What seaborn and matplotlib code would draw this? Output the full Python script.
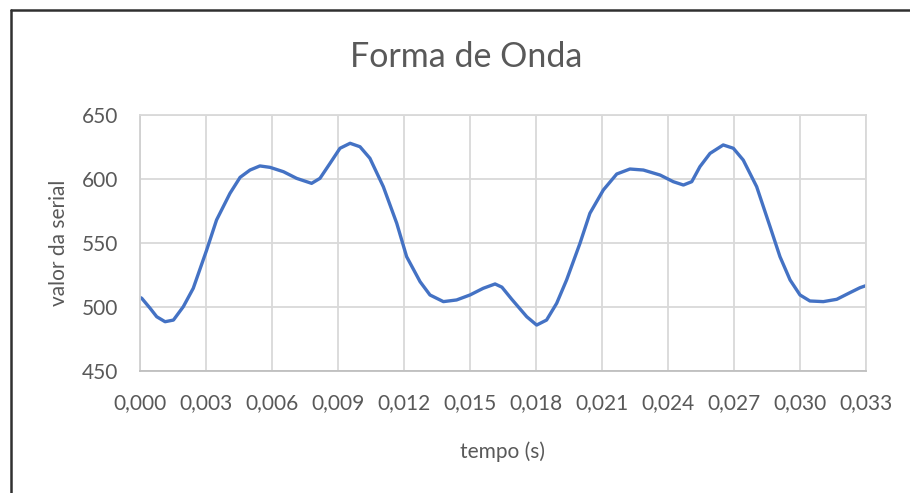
import matplotlib
matplotlib.use("Agg")
import matplotlib.pyplot as plt
import seaborn as sns
import pandas as pd
from matplotlib.lines import Line2D

# ---- data ----
tempo_ms = [0.0, 0.08, 0.46, 0.76, 1.14, 1.52, 1.97, 2.42, 3.03, 3.48, 4.09, 4.55, 5.0,
            5.45, 5.91, 6.52, 7.12, 7.8, 8.18, 8.64, 9.09, 9.55, 10.0, 10.45, 11.06,
            11.67, 12.12, 12.73, 13.18, 13.79, 14.39, 15.0, 15.6, 16.14, 16.45, 16.9,
            17.58, 18.03, 18.48, 18.94, 19.39, 20.0, 20.45, 21.06, 21.67, 22.27, 22.88,
            23.64, 24.24, 24.7, 25.08, 25.45, 25.91, 26.51, 26.97, 27.42, 28.03, 28.64,
            29.09, 29.55, 30.0, 30.45, 31.06, 31.67, 32.27, 32.73, 33.0]
valor = [507.5, 506.8, 499, 492.4, 488.5, 489.8, 500.3, 514.6, 544.5, 568, 588.8, 601.3,
         607, 610.2, 609.1, 605.7, 600.5, 596.6, 600.5, 612.3, 624, 627.9, 625.2, 616.2,
         594, 565.4, 539.3, 519.8, 509.4, 504.2, 505.5, 509.4, 514.6, 518, 515.5, 506,
         492.4, 485.9, 489.8, 502.9, 521.1, 549.8, 573.2, 591.4, 603.9, 607.8, 607,
         603.1, 597.9, 595.3, 597.9, 609.6, 620, 626.6, 624, 614.8, 594, 562.7,
         539.3, 521.1, 509.4, 504.7, 504.2, 506, 511.2, 515.1, 516.7]
x_ticks = [0.000, 0.003, 0.006, 0.009, 0.012, 0.015, 0.018, 0.021, 0.024, 0.027, 0.030, 0.033]
x_tick_labels = ["0,000", "0,003", "0,006", "0,009", "0,012", "0,015", "0,018",
                 "0,021", "0,024", "0,027", "0,030", "0,033"]
y_ticks = [450, 500, 550, 600, 650]

df = pd.DataFrame({"tempo": [t / 1000 for t in tempo_ms], "valor": valor})

sns.set_style("white")
plt.rcParams["font.family"] = ["Lato", "DejaVu Sans"]

fig = plt.figure(figsize=(9.10, 4.93), dpi=100)
ax = fig.add_axes([140 / 910, 1 - 371 / 493, (866 - 140) / 910, (371 - 115) / 493])

sns.lineplot(data=df, x="tempo", y="valor", ax=ax, color="#4472C4", linewidth=2.4,
             solid_joinstyle="round", solid_capstyle="round")

ax.set_xlim(0, 0.033)
ax.set_ylim(450, 650)
ax.set_xticks(x_ticks)
ax.set_xticklabels(x_tick_labels)
ax.set_yticks(y_ticks)
ax.grid(True, color="#d9d9d9", linewidth=1.3)
ax.set_axisbelow(True)
for s in ax.spines.values():
    s.set_color("#d9d9d9")
    s.set_linewidth(1.3)
ax.spines["bottom"].set_color("#bfbfbf")
ax.spines["left"].set_color("#d0d0d0")
ax.tick_params(axis="both", length=0, labelsize=15, colors="#595959")
ax.tick_params(axis="x", pad=16)
ax.tick_params(axis="y", pad=16)

ax.set_xlabel("tempo (s)", fontsize=15, color="#595959", labelpad=20)
ax.set_ylabel("valor da serial", fontsize=15, color="#595959", labelpad=9)
fig.text(466 / 910, 1 - 57 / 493, "Forma de Onda", ha="center", va="center",
         fontsize=24.5, color="#595959")

# outer border of the embedded chart
fig.add_artist(Line2D([10.5 / 910, 10.5 / 910], [0, 1 - 9.5 / 493],
                      transform=fig.transFigure, color="#303030", linewidth=1.8))
fig.add_artist(Line2D([10.5 / 910, 1], [1 - 9.5 / 493, 1 - 9.5 / 493],
                      transform=fig.transFigure, color="#303030", linewidth=1.8))

fig.savefig("out.png", dpi=100)
